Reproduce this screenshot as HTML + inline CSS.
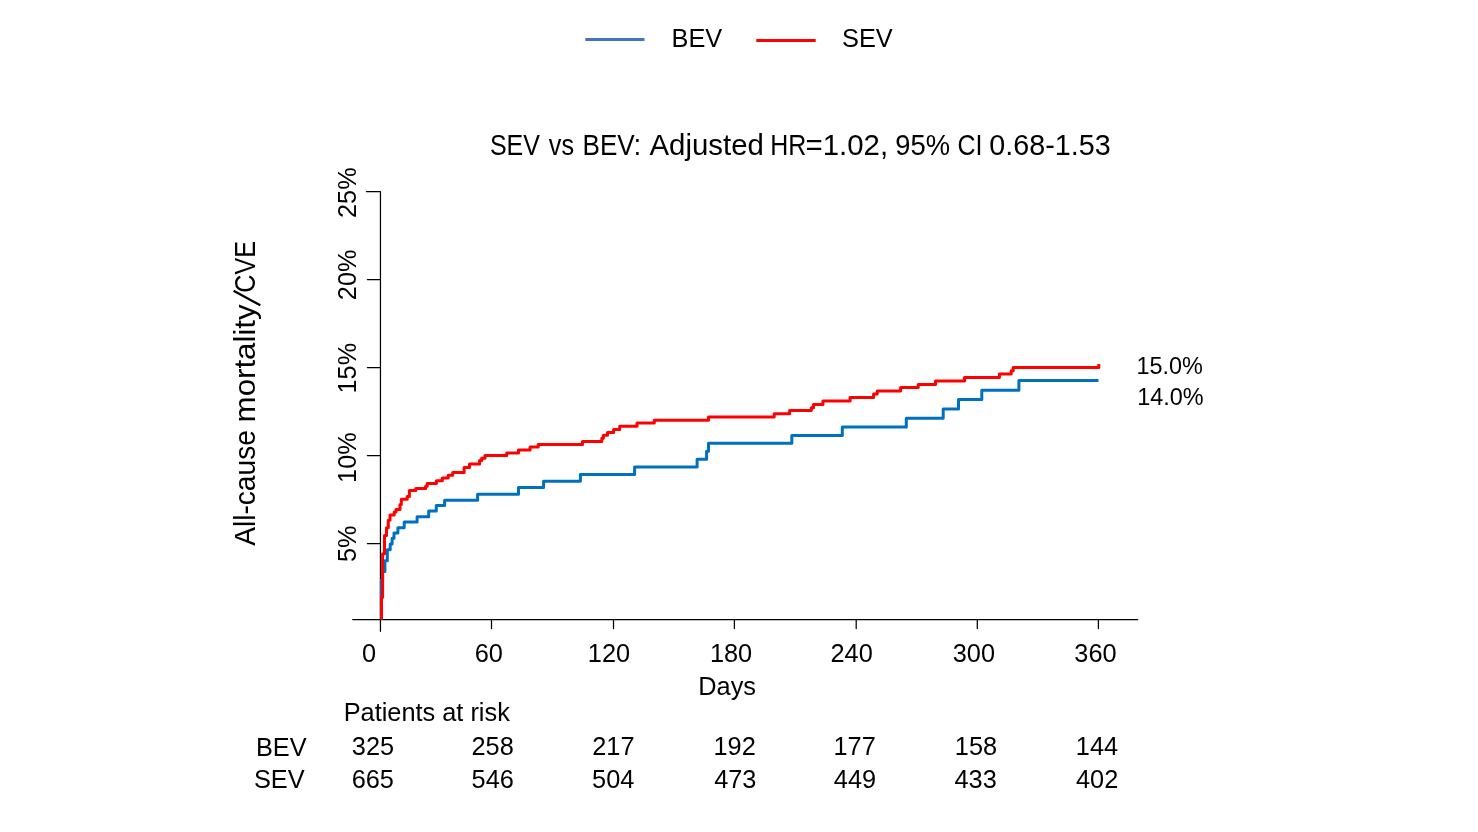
<!DOCTYPE html>
<html><head><meta charset="utf-8"><title>chart</title>
<style>
html,body{margin:0;padding:0;background:#fff;}
body{width:1478px;height:832px;overflow:hidden;font-family:"Liberation Sans",sans-serif;}
svg{display:block;will-change:transform;}
text{font-family:"Liberation Sans",sans-serif;fill:#000;}
</style></head><body>
<svg width="1478" height="832" viewBox="0 0 1478 832">
<rect width="1478" height="832" fill="#fff"/>
<line x1="585.3" y1="39.5" x2="644.5" y2="39.5" stroke="#4472C4" stroke-width="3"/>
<line x1="756.3" y1="40.5" x2="815.7" y2="40.5" stroke="#FF0000" stroke-width="3"/>
<g stroke="#000" stroke-width="1.25" fill="none" stroke-linecap="round" stroke-linejoin="round">
<path d="M366.4 191.5 H380.45 V631.3"/>
<path d="M367.4 279.50 H380.45"/>
<path d="M367.4 367.50 H380.45"/>
<path d="M367.4 455.50 H380.45"/>
<path d="M367.4 543.50 H380.45"/>
<path d="M352.7 619.5 H1137.7"/>
<path d="M491.5 619.5 V628.5"/>
<path d="M613.5 619.5 V628.5"/>
<path d="M734.4 619.5 V628.5"/>
<path d="M856.2 619.5 V628.5"/>
<path d="M977.3 619.5 V628.5"/>
<path d="M1098.4 619.5 V628.5"/>
</g>
<line x1="260.3" y1="305.3" x2="233.6" y2="290.7" stroke="#000" stroke-width="2.3"/>
<path d="M381.3 619.4 L381.3 619.4 L381.3 580.0 L382.6 580.0 L382.6 571.4 L384.9 571.4 L384.9 560.8 L387.3 560.8 L387.3 549.8 L390.2 549.8 L390.2 544.0 L392.1 544.0 L392.1 538.3 L394.0 538.3 L394.0 533.0 L397.9 533.0 L397.9 527.7 L404.2 527.7 L404.2 521.9 L417.1 521.9 L417.1 516.7 L428.7 516.7 L428.7 511.0 L436.3 511.0 L436.3 505.6 L444.6 505.6 L444.6 500.2 L477.6 500.2 L477.6 494.2 L518.5 494.2 L518.5 487.4 L543.6 487.4 L543.6 481.2 L580.4 481.2 L580.4 474.4 L634.6 474.4 L634.6 467.1 L697.1 467.1 L697.1 459.2 L706.6 459.2 L706.6 451.3 L708.5 451.3 L708.5 443.3 L791.8 443.3 L791.8 435.5 L842.3 435.5 L842.3 427.0 L906.3 427.0 L906.3 418.2 L943.2 418.2 L943.2 409.0 L958.5 409.0 L958.5 399.5 L981.8 399.5 L981.8 390.3 L1018.9 390.3 L1018.9 380.5 L1098.5 380.5 L1098.5 380.5" fill="none" stroke="#0070C0" stroke-width="3" stroke-linejoin="round"/>
<path d="M381.5 619.4 L381.5 619.4 L381.5 597.3 L382.6 597.3 L382.6 553.7 L384.5 553.7 L384.5 535.6 L386.5 535.6 L386.5 527.8 L388.3 527.8 L388.3 520.3 L390.0 520.3 L390.0 515.0 L394.2 515.0 L394.2 512.0 L396.0 512.0 L396.0 509.5 L400.0 509.5 L400.0 504.6 L401.3 504.6 L401.3 499.3 L407.2 499.3 L407.2 496.5 L409.4 496.5 L409.4 490.6 L415.8 490.6 L415.8 488.5 L425.6 488.5 L425.6 486.2 L427.2 486.2 L427.2 483.6 L436.4 483.6 L436.4 480.8 L442.3 480.8 L442.3 478.1 L448.2 478.1 L448.2 475.3 L452.7 475.3 L452.7 472.5 L464.1 472.5 L464.1 467.4 L469.5 467.4 L469.5 464.0 L479.6 464.0 L479.6 460.6 L481.7 460.6 L481.7 458.2 L485.0 458.2 L485.0 455.5 L506.7 455.5 L506.7 452.9 L518.5 452.9 L518.5 450.0 L530.1 450.0 L530.1 447.1 L538.2 447.1 L538.2 444.4 L582.5 444.4 L582.5 441.4 L601.8 441.4 L601.8 438.3 L603.4 438.3 L603.4 435.2 L607.5 435.2 L607.5 432.4 L613.6 432.4 L613.6 429.5 L619.7 429.5 L619.7 426.2 L637.0 426.2 L637.0 423.0 L654.3 423.0 L654.3 420.3 L708.5 420.3 L708.5 416.9 L774.2 416.9 L774.2 413.8 L789.6 413.8 L789.6 410.6 L811.3 410.6 L811.3 407.7 L813.5 407.7 L813.5 404.4 L822.9 404.4 L822.9 401.0 L850.1 401.0 L850.1 397.5 L873.6 397.5 L873.6 394.1 L877.2 394.1 L877.2 390.9 L900.6 390.9 L900.6 387.6 L918.2 387.6 L918.2 384.4 L935.5 384.4 L935.5 380.9 L964.5 380.9 L964.5 377.6 L999.4 377.6 L999.4 374.1 L1011.2 374.1 L1011.2 370.8 L1013.2 370.8 L1013.2 367.4 L1098.8 367.4 L1098.8 364.0" fill="none" stroke="#FF0000" stroke-width="3" stroke-linejoin="round"/>
<text transform="translate(671.56 47.30)" font-size="25.33">BEV</text>
<text transform="translate(842.08 47.30)" font-size="25.33">SEV</text>
<text transform="translate(489.88 154.90) scale(0.8500 1)" font-size="29.4">SEV</text>
<text transform="translate(548.87 154.90) scale(0.8574 1)" font-size="29.4">vs</text>
<text transform="translate(582.55 154.90) scale(0.8873 1)" font-size="29.4">BEV:</text>
<text transform="translate(649.50 154.90)" font-size="29.4">Adjusted</text>
<text transform="translate(770.31 154.90) scale(0.8500 1)" font-size="29.4">HR</text>
<text transform="translate(805.57 154.90)" font-size="29.4">=1.02,</text>
<text transform="translate(895.30 154.90) scale(0.9313 1)" font-size="29.4">95%</text>
<text transform="translate(957.44 154.90) scale(0.8500 1)" font-size="29.4">CI</text>
<text transform="translate(989.35 154.90) scale(0.9763 1)" font-size="29.4">0.68-1.53</text>
<text transform="translate(362.04 661.50)" font-size="25.33">0</text>
<text transform="translate(474.78 661.50)" font-size="25.33">60</text>
<text transform="translate(587.81 661.50)" font-size="25.33">120</text>
<text transform="translate(709.91 661.50)" font-size="25.33">180</text>
<text transform="translate(830.47 661.50)" font-size="25.33">240</text>
<text transform="translate(952.78 661.50)" font-size="25.33">300</text>
<text transform="translate(1074.33 661.50)" font-size="25.33">360</text>
<text transform="translate(698.30 694.60)" font-size="25.33">Days</text>
<text transform="translate(343.70 720.90)" font-size="25.33">Patients at risk</text>
<text transform="translate(255.91 755.70)" font-size="25.33">BEV</text>
<text transform="translate(253.98 788.00)" font-size="25.33">SEV</text>
<text transform="translate(351.86 754.60)" font-size="25.33">325</text>
<text transform="translate(471.49 754.60)" font-size="25.33">258</text>
<text transform="translate(592.28 754.60)" font-size="25.33">217</text>
<text transform="translate(713.53 754.60)" font-size="25.33">192</text>
<text transform="translate(833.53 754.60)" font-size="25.33">177</text>
<text transform="translate(954.84 754.60)" font-size="25.33">158</text>
<text transform="translate(1075.86 754.60)" font-size="25.33">144</text>
<text transform="translate(351.70 788.00)" font-size="25.33">665</text>
<text transform="translate(471.61 788.00)" font-size="25.33">546</text>
<text transform="translate(592.12 788.00)" font-size="25.33">504</text>
<text transform="translate(714.18 788.00)" font-size="25.33">473</text>
<text transform="translate(833.87 788.00)" font-size="25.33">449</text>
<text transform="translate(954.53 788.00)" font-size="25.33">433</text>
<text transform="translate(1076.03 788.00)" font-size="25.33">402</text>
<text transform="translate(1136.41 374.00) scale(0.9760 1)" font-size="24">15.0%</text>
<text transform="translate(1137.21 404.90) scale(0.9760 1)" font-size="24">14.0%</text>
<text transform="translate(355.80 217.97) rotate(-90)" font-size="25.33">25%</text>
<text transform="translate(355.80 300.17) rotate(-90)" font-size="25.33">20%</text>
<text transform="translate(355.80 393.49) rotate(-90)" font-size="25.33">15%</text>
<text transform="translate(355.80 482.89) rotate(-90)" font-size="25.33">10%</text>
<text transform="translate(355.80 562.08) rotate(-90)" font-size="25.33">5%</text>
<text transform="translate(255.40 545.87) rotate(-90) scale(0.9542 1)" font-size="29.5">All-cause</text>
<text transform="translate(255.40 422.38) rotate(-90) scale(1.0600 1)" font-size="29.5">mortality</text>
<text transform="translate(255.40 292.64) rotate(-90) scale(0.8500 1)" font-size="29.5">CVE</text>
</svg>
</body></html>
